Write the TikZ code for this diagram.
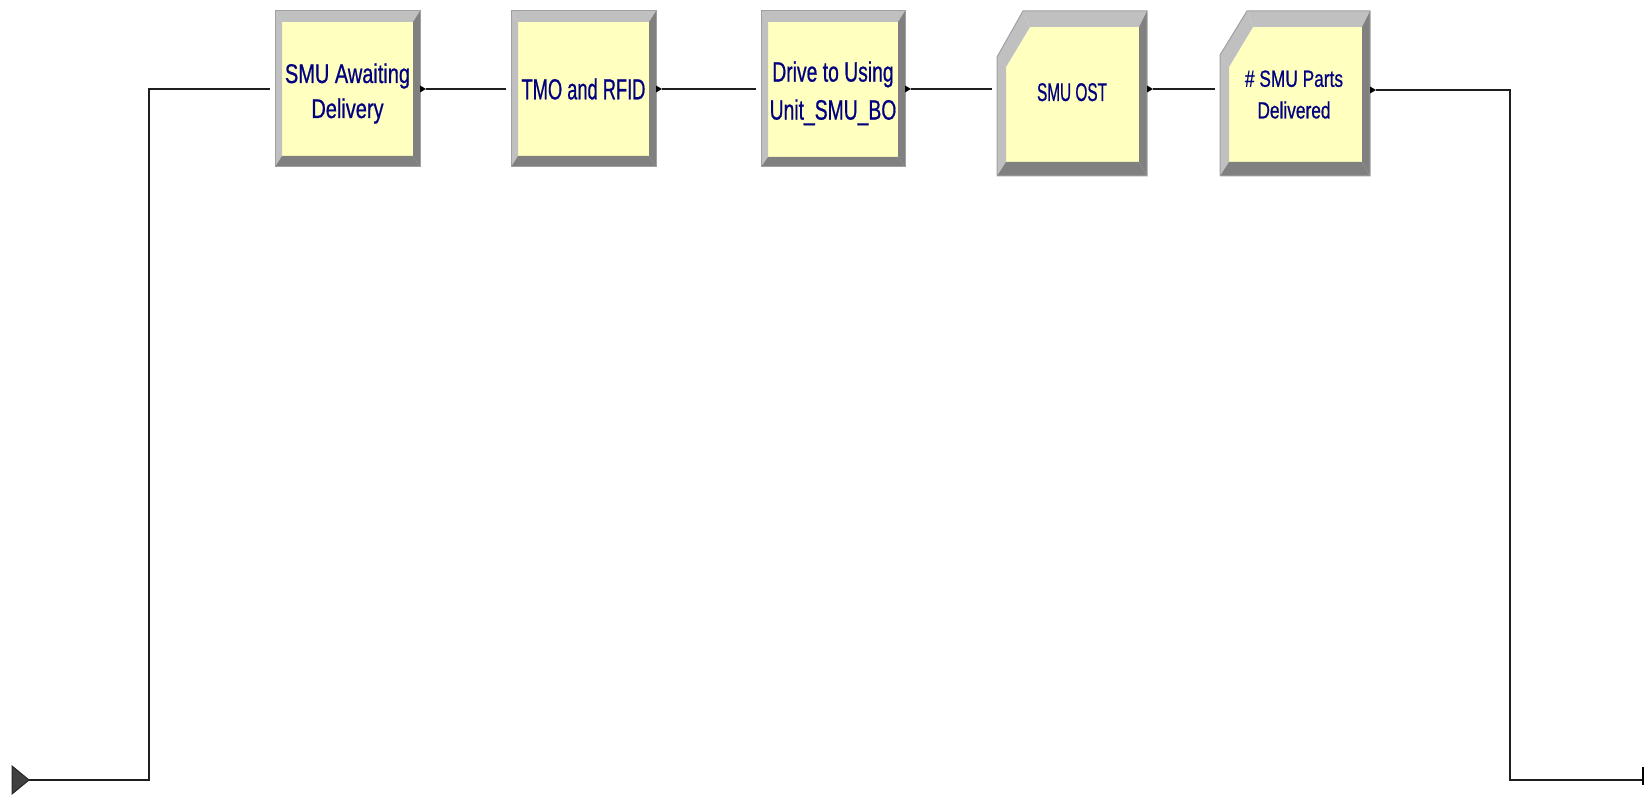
\documentclass[tikz,border=0pt]{standalone}
\usepackage{fontspec}
\setmainfont{Liberation Sans}
\newfontfamily\modfont[FakeBold=0.8]{Liberation Sans}
\usetikzlibrary{calc}
\definecolor{face}{RGB}{255,255,192}
\definecolor{bvlight}{RGB}{192,192,192}
\definecolor{bvdark}{RGB}{128,128,128}
\definecolor{bvline}{RGB}{160,160,160}
\definecolor{navytxt}{RGB}{0,0,128}
\definecolor{conn}{RGB}{30,30,30}
\newcommand\lbl[4]{\scalebox{#1}[1]{\modfont\fontsize{#2}{#3}\selectfont\begin{tabular}{@{}c@{}}#4\end{tabular}}}
\newcommand\rectmodule[5]{%
 \fill[face] ($(#1.north west)+(#2,#3)$) rectangle ($(#1.south east)+(-#4,-#5)$);
 \fill[bvlight] (#1.north west) -- (#1.north east) -- ($(#1.north east)+(-#4,#3)$) -- ($(#1.north west)+(#2,#3)$) -- cycle;
 \fill[bvlight] (#1.south west) -- (#1.north west) -- ($(#1.north west)+(#2,#3)$) -- ($(#1.south west)+(#2,-#5)$) -- cycle;
 \fill[bvdark] (#1.north east) -- (#1.south east) -- ($(#1.south east)+(-#4,-#5)$) -- ($(#1.north east)+(-#4,#3)$) -- cycle;
 \fill[bvdark] (#1.south east) -- (#1.south west) -- ($(#1.south west)+(#2,-#5)$) -- ($(#1.south east)+(-#4,-#5)$) -- cycle;
 \draw[bvline,line width=0.5pt] (#1.north west) rectangle (#1.south east);
}
\newcommand\chammodule[9]{%
 \fill[face] ($(#1.north west)+(#2,#9)$) -- ($(#1.north west)+(#8,#3)$) -- ($(#1.north east)+(-#4,#3)$) -- ($(#1.south east)+(-#4,-#5)$) -- ($(#1.south west)+(#2,-#5)$) -- cycle;
 \fill[bvlight] ($(#1.north west)+(#6,0)$) -- (#1.north east) -- ($(#1.north east)+(-#4,#3)$) -- ($(#1.north west)+(#8,#3)$) -- cycle;
 \fill[bvlight] ($(#1.north west)+(0,#7)$) -- ($(#1.north west)+(#6,0)$) -- ($(#1.north west)+(#8,#3)$) -- ($(#1.north west)+(#2,#9)$) -- cycle;
 \fill[bvlight] (#1.south west) -- ($(#1.north west)+(0,#7)$) -- ($(#1.north west)+(#2,#9)$) -- ($(#1.south west)+(#2,-#5)$) -- cycle;
 \fill[bvdark] (#1.north east) -- (#1.south east) -- ($(#1.south east)+(-#4,-#5)$) -- ($(#1.north east)+(-#4,#3)$) -- cycle;
 \fill[bvdark] (#1.south east) -- (#1.south west) -- ($(#1.south west)+(#2,-#5)$) -- ($(#1.south east)+(-#4,-#5)$) -- cycle;
 \draw[bvline,line width=0.5pt] ($(#1.north west)+(0,#7)$) -- ($(#1.north west)+(#6,0)$) -- (#1.north east) -- (#1.south east) -- (#1.south west) -- cycle;
}
\newcommand\exittri[1]{\fill[black] (#1) -- ++(0,-3.5) -- ++(6,3.5) -- ++(-6,3.5) -- cycle;}
\begin{document}
\begin{tikzpicture}[x=0.5pt,y=-0.5pt,
  modbox/.style={rectangle,draw=none,inner sep=0pt,outer sep=0pt},
  modtext/.style={inner sep=0pt,outer sep=0pt,text=navytxt},
  connline/.style={draw=conn,line width=0.75pt}]
\useasboundingbox (0,0) rectangle (1644,795);
% module frames
\node[modbox,minimum width=72.5pt,minimum height=78pt] (b1) at (347.5,89) {};
\node[modbox,minimum width=72.5pt,minimum height=78pt] (b2) at (583.5,89) {};
\node[modbox,minimum width=72pt,minimum height=78pt] (b3) at (833,89) {};
\node[modbox,minimum width=75pt,minimum height=82.5pt] (b4) at (1072,93.5) {};
\node[modbox,minimum width=75pt,minimum height=82.5pt] (b5) at (1295,93.5) {};
\rectmodule{b1}{7}{11}{7}{11}
\rectmodule{b2}{7}{11}{7}{11}
\rectmodule{b3}{7}{11}{7}{10}
\chammodule{b4}{9}{16}{8}{14}{26}{46}{33}{56}
\chammodule{b5}{9}{16}{8}{14}{27}{44}{33}{56}
% labels
\node[modtext] (t1) at (347.5,93.5) {\lbl{0.74}{13.5}{17.5}{SMU Awaiting\\Delivery}};
\node[modtext] (t2) at (583.5,92.4) {\lbl{0.63}{14.5}{17.4}{TMO and RFID}};
\node[modtext] (t3) at (833,93) {\lbl{0.69}{14}{19}{Drive to Using\\Unit\_SMU\_BO}};
\node[modtext] (t4) at (1072,95) {\lbl{0.6}{12.8}{15}{SMU OST}};
\node[modtext] (t5) at (1294,96.3) {\lbl{0.74}{11.7}{15.8}{\# SMU Parts\\Delivered}};
% exit points
\coordinate (o1) at (b1.east);
\coordinate (o2) at (b2.east);
\coordinate (o3) at (b3.east);
\coordinate (o4) at ($(b4.north east)+(0,78)$);
\coordinate (o5) at ($(b5.north east)+(0,79)$);
\exittri{o1}\exittri{o2}\exittri{o3}\exittri{o4}\exittri{o5}
% entry points
\coordinate (i1) at ($(b1.west)+(-5,0)$);
\coordinate (i2) at ($(b2.west)+(-5,0)$);
\coordinate (i3) at ($(b3.west)+(-5,0)$);
\coordinate (i4) at ($(b4.north west)+(-5,78)$);
\coordinate (i5) at ($(b5.north west)+(-5,78)$);
% source triangle and route corners
\coordinate (src) at (29,780);
\coordinate (c1) at (149,780);
\coordinate (c2) at (1510,780);
\coordinate (dst) at (1643,780);
\fill[black!75,draw=black!85,line width=0.5pt] (12,766) -- (src) -- (12,794) -- cycle;
% connectors
\draw[connline] (src) -- (c1) |- (i1);
\draw[connline] ($(o1)+(6,0)$) -- (i2);
\draw[connline] ($(o2)+(6,0)$) -- (i3);
\draw[connline] ($(o3)+(6,0)$) -- (i4);
\draw[connline] ($(o4)+(6,0)$) -- (i5);
\draw[connline] ($(o5)+(6,0)$) -| (c2) -- (dst);
\draw[black,line width=1pt] ($(dst)+(0,-13)$) -- ($(dst)+(0,5)$);
\end{tikzpicture}
\end{document}
